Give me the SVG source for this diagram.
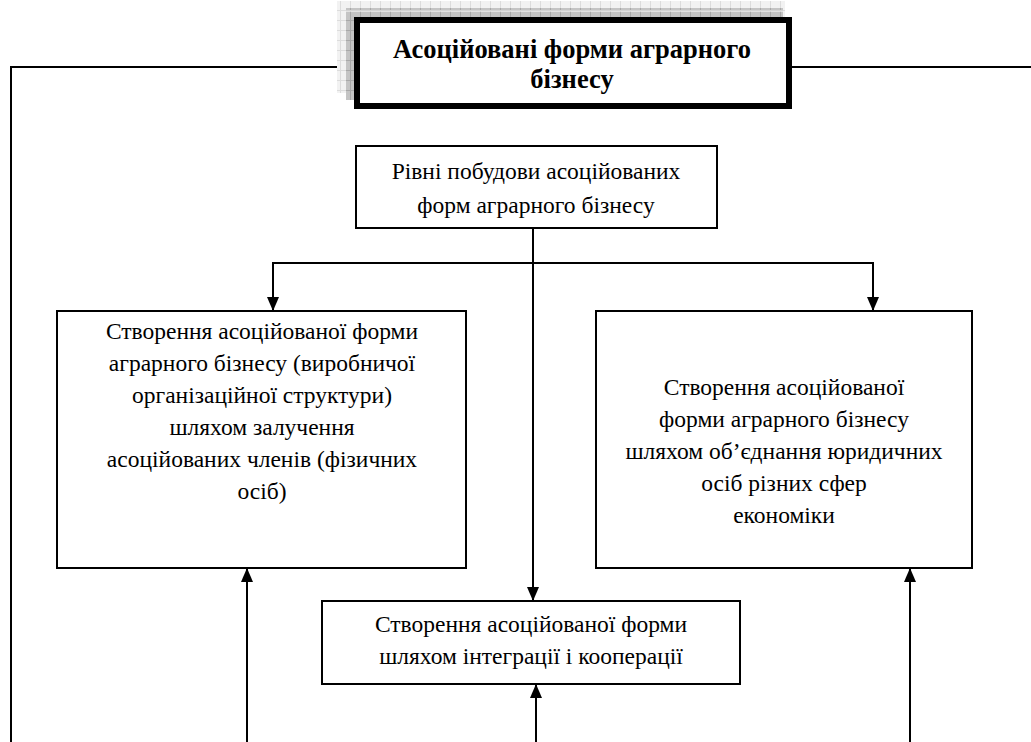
<svg xmlns="http://www.w3.org/2000/svg" width="1031" height="742" viewBox="0 0 1031 742">
<style>
.box{fill:#fff;stroke:#000;stroke-width:2}
.ln{fill:none;stroke:#000;stroke-width:2}
.t{font-size:23.5px;fill:#000;text-anchor:middle}
.tb{font-size:26.5px;font-weight:bold;fill:#000;text-anchor:middle}
</style>
<defs>
<marker id="arr" viewBox="0 0 14 12" refX="14" refY="6" markerWidth="14" markerHeight="12" markerUnits="userSpaceOnUse" orient="auto">
<path d="M0,0 L14,6 L0,12 Z" fill="#000"/>
</marker>
<pattern id="gl" width="10" height="10" patternUnits="userSpaceOnUse">
<rect width="10" height="10" fill="#f2f2f2"/>
<path d="M0,0.5H10M0.5,0V10" stroke="#dcdcdc" stroke-width="1"/>
</pattern>
<pattern id="gd" width="10" height="10" patternUnits="userSpaceOnUse">
<rect width="10" height="10" fill="#c4c4c4"/>
<path d="M0,0.5H10M0.5,0V10" stroke="#a8a8a8" stroke-width="1"/>
</pattern>
</defs>

<g id="connectors">
<path class="ln" d="M354,67 H11 V742"/>
<path class="ln" d="M792,67 H1031"/>
<path class="ln" d="M533,228 V601" marker-end="url(#arr)"/>
<path class="ln" d="M533,263 H273 V311" marker-end="url(#arr)"/>
<path class="ln" d="M533,263 H873 V311" marker-end="url(#arr)"/>
<path class="ln" d="M247,742 V568" marker-end="url(#arr)"/>
<path class="ln" d="M536,742 V684" marker-end="url(#arr)"/>
<path class="ln" d="M910,742 V568" marker-end="url(#arr)"/>
</g>

<g font-family="Liberation Serif, Times New Roman, serif">
<g id="title">
<rect x="337" y="1" width="448" height="92" fill="url(#gl)"/>
<rect x="346" y="8" width="437" height="92" fill="url(#gd)"/>
<line x1="346" y1="11" x2="783" y2="11" stroke="#fff" stroke-width="1"/>
<rect x="357" y="20" width="432" height="86" fill="#fff" stroke="#000" stroke-width="6"/>
<text class="tb" x="572" y="58">Асоційовані форми аграрного</text>
<text class="tb" x="572" y="88">бізнесу</text>
</g>

<g id="levels">
<rect class="box" x="356" y="146" width="361" height="82"/>
<text class="t" x="536" y="179">Рівні побудови асоційованих</text>
<text class="t" x="536" y="213">форм аграрного бізнесу</text>
</g>

<g id="left-box">
<rect class="box" x="57" y="311" width="409" height="257"/>
<text class="t" x="262" y="339">Створення асоційованої форми</text>
<text class="t" x="262" y="371">аграрного бізнесу (виробничої</text>
<text class="t" x="262" y="403">організаційної структури)</text>
<text class="t" x="262" y="435">шляхом залучення</text>
<text class="t" x="262" y="467">асоційованих членів (фізичних</text>
<text class="t" x="262" y="499">осіб)</text>
</g>

<g id="right-box">
<rect class="box" x="596" y="311" width="376" height="257"/>
<text class="t" x="784" y="395">Створення асоційованої</text>
<text class="t" x="784" y="427">форми аграрного бізнесу</text>
<text class="t" x="784" y="459">шляхом об’єднання юридичних</text>
<text class="t" x="784" y="491">осіб різних сфер</text>
<text class="t" x="784" y="523">економіки</text>
</g>

<g id="integration">
<rect class="box" x="322" y="601" width="418" height="83"/>
<text class="t" x="531" y="632">Створення асоційованої форми</text>
<text class="t" x="531" y="664">шляхом інтеграції і кооперації</text>
</g>
</g>
</svg>
